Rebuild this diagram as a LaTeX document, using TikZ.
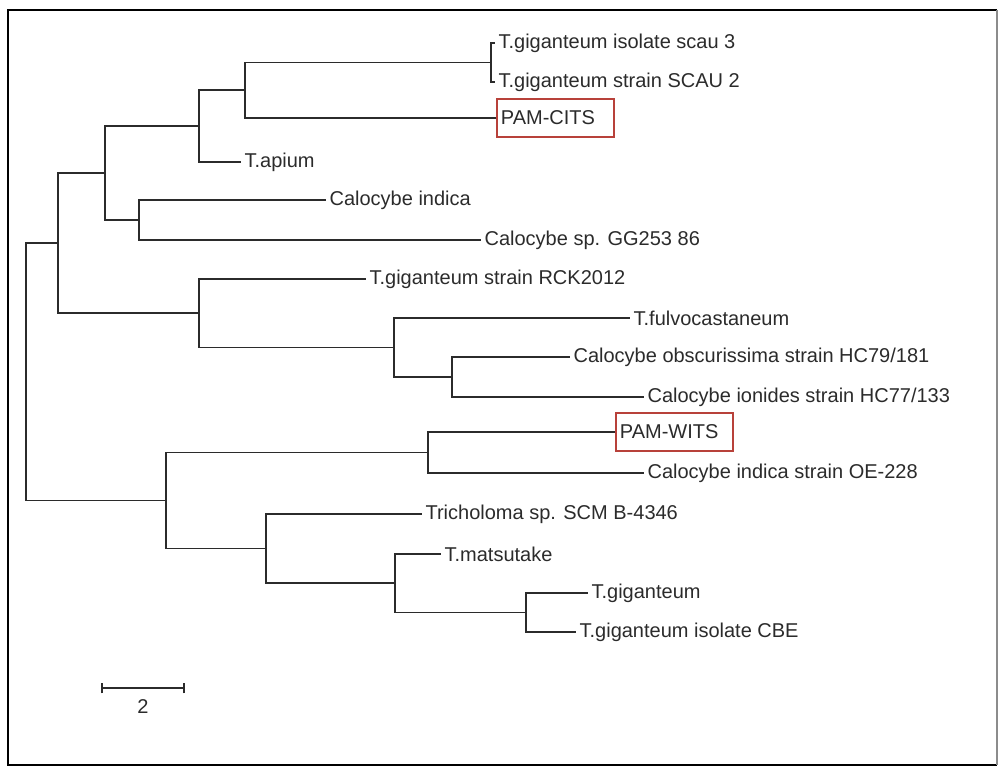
\documentclass[tikz,border=0pt]{standalone}
\usepackage{fontspec}
\setmainfont{Liberation Sans}
\usepackage{tikz}
\usetikzlibrary{positioning}
\definecolor{ink}{HTML}{2B2B2B}
\definecolor{pamred}{HTML}{B8413A}
\tikzset{leaf/.style={anchor=west,inner xsep=2.5pt,inner ysep=1.5pt,text=ink,font=\fontsize{15}{18}\selectfont},pambox/.style={leaf,draw=pamred,line width=1.4pt,inner xsep=3pt,minimum height=28pt,text width=82pt,align=left},branch/.style={draw=ink,line width=0.8pt},frame/.style={draw=black,line width=2.2pt}}
\begin{document}
\begin{tikzpicture}[x=0.75pt,y=-0.75pt]
\useasboundingbox (0,0) rectangle (1002,767);
\draw[frame] (997,765) -- (8,765) -- (8,10) -- (997,10);
\draw[draw=black!45,line width=1.2pt] (997,10) -- (997,765);
% leaves
\node[leaf] (l1) at (495,43) {T.giganteum isolate scau 3};
\node[leaf] (l2) at (495,82) {T.giganteum strain SCAU 2};
\node[pambox] (l3) at (496,118) {PAM-CITS};
\node[leaf] (l4) at (241,162) {T.apium};
\node[leaf] (l5) at (326,200) {Calocybe indica};
\node[leaf] (l6) at (481,240) {Calocybe sp. GG253 86};
\node[leaf] (l7) at (366,279) {T.giganteum strain RCK2012};
\node[leaf] (l8) at (630,318) {T.fulvocastaneum};
\node[leaf] (l9) at (570,357) {Calocybe obscurissima strain HC79/181};
\node[leaf] (l10) at (644,397) {Calocybe ionides strain HC77/133};
\node[pambox] (l11) at (615,432) {PAM-WITS};
\node[leaf] (l12) at (644,473) {Calocybe indica strain OE-228};
\node[leaf] (l13) at (422,514) {Tricholoma sp. SCM B-4346};
\node[leaf] (l14) at (441,554) {T.matsutake};
\node[leaf] (l15) at (588,593) {T.giganteum};
\node[leaf] (l16) at (576,632) {T.giganteum isolate CBE};
% inner nodes
\coordinate (nA) at (491,62.5);
\coordinate (nB) at (245,90);
\coordinate (nC) at (199,126);
\coordinate (nD) at (139,220);
\coordinate (nE) at (105,173);
\coordinate (nG) at (452,377);
\coordinate (nF) at (394,347.5);
\coordinate (nH) at (199,313);
\coordinate (nI) at (58,243);
\coordinate (nJ) at (428,452.5);
\coordinate (nK) at (526,612.5);
\coordinate (nL) at (395,583);
\coordinate (nM) at (266,548.5);
\coordinate (nN) at (166,500.5);
\coordinate (root) at (26,372);
\draw[branch] (nA) |- (l1) (nA) |- (l2) (nB) |- (nA) (nB) |- (l3) (nC) |- (nB) (nC) |- (l4);
\draw[branch] (nD) |- (l5) (nD) |- (l6) (nE) |- (nC) (nE) |- (nD);
\draw[branch] (nG) |- (l9) (nG) |- (l10) (nF) |- (l8) (nF) |- (nG) (nH) |- (l7) (nH) |- (nF);
\draw[branch] (nI) |- (nE) (nI) |- (nH);
\draw[branch] (nJ) |- (l11) (nJ) |- (l12);
\draw[branch] (nK) |- (l15) (nK) |- (l16) (nL) |- (l14) (nL) |- (nK) (nM) |- (l13) (nM) |- (nL);
\draw[branch] (nN) |- (nJ) (nN) |- (nM) (root) |- (nI) (root) |- (nN);
% scale bar
\coordinate (s0) at (102,688);
\coordinate (s1) at (184,688);
\draw[branch] (s0) -- (s1) ([yshift=-4pt]s0) -- ([yshift=4pt]s0) ([yshift=-4pt]s1) -- ([yshift=4pt]s1);
\node[leaf,anchor=north] (sc) at (143,697) {2};
\end{tikzpicture}
\end{document}
